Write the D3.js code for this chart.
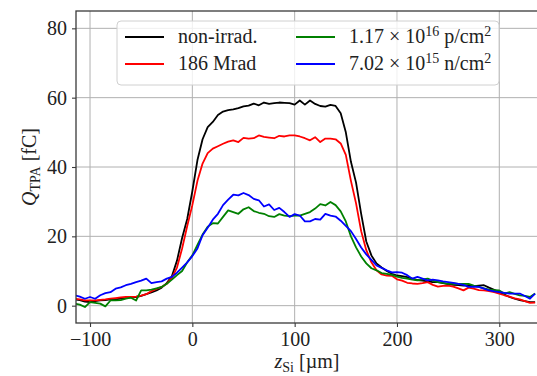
<!DOCTYPE html>
<html>
<head>
<meta charset="utf-8">
<script src="https://cdn.jsdelivr.net/npm/d3@7"></script>
<style>
  html, body { margin: 0; padding: 0; background: #fff; }
  svg { display: block; font-family: "Liberation Serif", "DejaVu Serif", serif; }
</style>
</head>
<body>
<div id="chart"></div>
<script>
// z positions (µm)
let zSi = [-115,-110,-105,-100,-95,-90,-85,-80,-75,-70,-65,-60,-55,-50,-45,-40,-35,-30,-25,-20,-15,-10,-5,
  0,5,10,15,20,25,30,35,40,45,50,55,60,65,70,75,80,85,90,95,100,105,110,115,120,125,130,135,140,145,150,
  155,160,165,170,175,180,185,190,195,200,205,210,215,220,225,230,235,240,245,250,255,260,265,270,275,280,
  285,290,295,300,305,310,315,320,325,330,335];

let nonIrrad = [1.8,1.6,1.2,1.0,1.3,1.5,1.6,1.8,1.8,2.0,2.2,2.4,2.5,2.8,3.3,3.8,4.4,5.2,6.5,8.5,13,19.5,25,
  33,42,48,51.5,53,55,56,56.4,56.6,57,57.5,57.7,58.3,57.8,58.6,58.2,58.4,58.6,58.5,58.4,58,59.2,58,59.2,58.2,
  57.6,57.4,57.9,57.6,55.5,50,41.5,35.5,26.5,18.5,14.5,12.2,11,10,9.2,8.7,8.5,8.2,7.8,7.4,7.2,7.0,6.8,6.8,
  6.5,6.2,6.0,5.9,5.8,5.9,5.6,5.8,5.9,5.2,4.6,3.9,3.2,2.5,2.0,1.6,1.3,1.0,1.0];

let mrad186 = [2.0,1.8,1.5,1.5,1.5,1.7,1.8,2.0,2.2,2.4,2.5,2.5,2.6,2.9,3.3,4.2,4.8,5.4,6.3,8.0,11,16.5,23,
  29,36,41,44,45.3,46,46.7,47.3,47.7,47.2,48.4,48.2,48.3,49.1,48.7,48.5,48.3,49,48.8,49.1,49.1,48.8,48.3,
  47.7,48.6,47.2,48.2,48.2,48.0,46.8,43.5,36,29.5,21.5,16,12.5,10.2,9.0,8.7,8.6,7.6,7.2,6.6,6.4,6.3,6.5,
  6.8,6.0,5.5,5.7,5.8,5.5,5.0,4.4,5.2,4.9,4.5,4.4,4.2,3.9,3.5,3.0,2.6,2.1,1.8,1.3,0.8,0.9];

let proton = [0.6,0.3,-0.4,1.0,0.8,0.6,-0.2,1.5,1.5,1.6,2.0,2.3,1.5,4.4,4.4,4.6,5.0,5.4,6.3,7.5,8.8,10.0,12.5,
  14.5,17.5,20.5,22.8,23.8,23.7,25.6,27.5,27,26.5,27.8,28.4,27.3,26.8,26.5,25.8,25.6,26.4,26.0,25.8,26,26,
  26.5,27,28,29.3,28.9,29.9,29,27.2,24.3,20,16.8,14.2,12.2,10.8,10.2,9.4,9.2,8.9,8.4,8.0,7.8,7.5,7.3,7.6,
  7.8,7.2,6.8,6.6,6.3,6.4,6.3,6.3,6.3,5.8,5.4,5.0,4.6,4.5,4.4,3.5,3.9,3.4,3.0,2.8,2.5,3.5];

let neutron = [3.0,2.6,2.0,2.5,2.0,3.0,3.6,3.9,4.9,5.3,5.9,6.3,6.8,7.2,7.8,6.5,6.8,7.0,7.8,8.3,9.5,11,12.5,
  14.3,16.5,20.3,22.5,24.8,26.5,29,30.6,32,31.8,32.5,31.9,30.8,30.4,28.6,29.2,27.6,28.2,27,25.6,26.4,26,
  24.3,24.3,25,24.8,26.5,26,25.7,24.5,23,21.5,19.2,16.8,14.8,13.2,11.6,10.9,10.2,9.6,9.7,9.5,8.8,7.8,8.3,
  7.8,7.3,7.5,7.3,7.0,6.8,6.6,6.3,6.0,5.4,5.5,5.4,4.9,4.4,4.1,3.9,3.7,3.5,3.5,3.5,2.8,2.0,3.5];

let xTicks = [-100, 0, 100, 200, 300];
let yTicks = [0, 20, 40, 60, 80];

let series = [
  {name: "non", values: nonIrrad, color: "#000000"},
  {name: "mrad", values: mrad186, color: "#ff0000"},
  {name: "p", values: proton, color: "#008000"},
  {name: "n", values: neutron, color: "#0000ff"}
];

let margin = {top: 11, right: 0, bottom: 53, left: 76},
    W = 537, H = 376,
    width = 539 - margin.left,
    height = H - margin.top - margin.bottom;

let svg = d3.select("#chart").append("svg")
    .attr("width", W)
    .attr("height", H);

let g = svg.append("g")
    .attr("transform", "translate(" + margin.left + "," + margin.top + ")");

let xScale = d3.scaleLinear().domain([-113.7, 338.8]).range([0, width]);
let yScale = d3.scaleLinear().domain([-5, 85]).range([height, 0]);

// grid
g.append("g").selectAll("line").data(xTicks).enter().append("line")
    .attr("x1", d => xScale(d)).attr("x2", d => xScale(d))
    .attr("y1", 0).attr("y2", height)
    .attr("stroke", "#b0b0b0").attr("stroke-width", 1);
g.append("g").selectAll("line").data(yTicks).enter().append("line")
    .attr("y1", d => yScale(d)).attr("y2", d => yScale(d))
    .attr("x1", 0).attr("x2", width)
    .attr("stroke", "#b0b0b0").attr("stroke-width", 1);

g.append("clipPath").attr("id", "clip")
  .append("rect").attr("width", width).attr("height", height);

let line = d3.line()
    .x((d, i) => xScale(zSi[i]))
    .y(d => yScale(d));

g.append("g").attr("clip-path", "url(#clip)")
  .selectAll("path").data(series).enter().append("path")
    .attr("d", d => line(d.values))
    .attr("fill", "none")
    .attr("stroke", d => d.color)
    .attr("stroke-width", 1.8)
    .attr("stroke-linejoin", "round");

// frame
g.append("rect")
    .attr("width", width).attr("height", height)
    .attr("fill", "none").attr("stroke", "#3a3a3a").attr("stroke-width", 1.3);

let xAxis = d3.axisBottom(xScale).tickValues(xTicks).tickSize(4).tickPadding(5);
let yAxis = d3.axisLeft(yScale).tickValues(yTicks).tickSize(4).tickPadding(5);

let xAxis_g = g.append("g")
    .attr("transform", "translate(0," + height + ")")
    .call(xAxis);
let yAxis_g = g.append("g").call(yAxis);

[xAxis_g, yAxis_g].forEach(a => {
  a.select(".domain").remove();
  a.selectAll(".tick line").attr("stroke", "#3a3a3a").attr("stroke-width", 1.1);
  a.selectAll(".tick text")
    .attr("fill", "#222")
    .style("font-family", "'Liberation Serif', serif")
    .style("font-size", "20px");
});

// axis labels
let ylab = svg.append("text")
    .attr("transform", "translate(36," + (margin.top + height / 2) + ") rotate(-90)")
    .attr("text-anchor", "middle")
    .attr("fill", "#222")
    .style("font-size", "20px");
ylab.append("tspan").attr("font-style", "italic").text("Q");
ylab.append("tspan").attr("font-size", "14px").attr("dy", 4).text("TPA");
ylab.append("tspan").attr("dy", -4).text(" [fC]");

let xlab = svg.append("text")
    .attr("x", margin.left + xScale(112))
    .attr("y", 368)
    .attr("text-anchor", "middle")
    .attr("fill", "#222")
    .style("font-size", "20px");
xlab.append("tspan").attr("font-style", "italic").text("z");
xlab.append("tspan").attr("font-size", "14px").attr("dy", 4).text("Si");
xlab.append("tspan").attr("dy", -4).text(" [µm]");

// legend
let legend = svg.append("g");
legend.append("rect")
    .attr("x", 117).attr("y", 21).attr("width", 382).attr("height", 64)
    .attr("rx", 4)
    .attr("fill", "#fff").attr("fill-opacity", 0.8)
    .attr("stroke", "#d0d0d0").attr("stroke-width", 1);

let legendItems = [
  {s: series[0], x: 125, y: 37},
  {s: series[1], x: 125, y: 64},
  {s: series[2], x: 296, y: 37},
  {s: series[3], x: 296, y: 64}
];

legend.selectAll(".lh").data(legendItems).enter().append("line")
    .attr("x1", d => d.x).attr("x2", d => d.x + 39)
    .attr("y1", d => d.y).attr("y2", d => d.y)
    .attr("stroke", d => d.s.color).attr("stroke-width", 1.8);

let txt = legend.selectAll(".lt").data(legendItems).enter().append("text")
    .attr("x", d => d.x + 53)
    .attr("y", d => d.y + 6)
    .attr("fill", "#222")
    .style("font-size", "20px");

txt.each(function(d, i) {
  let t = d3.select(this);
  if (i === 0) t.text("non-irrad.");
  else if (i === 1) t.text("186 Mrad");
  else {
    let parts = i === 2 ? ["1.17 × 10", "16", " p/cm"] : ["7.02 × 10", "15", " n/cm"];
    t.append("tspan").text(parts[0]);
    t.append("tspan").attr("font-size", "14px").attr("dy", -7).text(parts[1]);
    t.append("tspan").attr("dy", 7).text(parts[2]);
    t.append("tspan").attr("font-size", "14px").attr("dy", -7).text("2");
  }
});
</script>
</body>
</html>
